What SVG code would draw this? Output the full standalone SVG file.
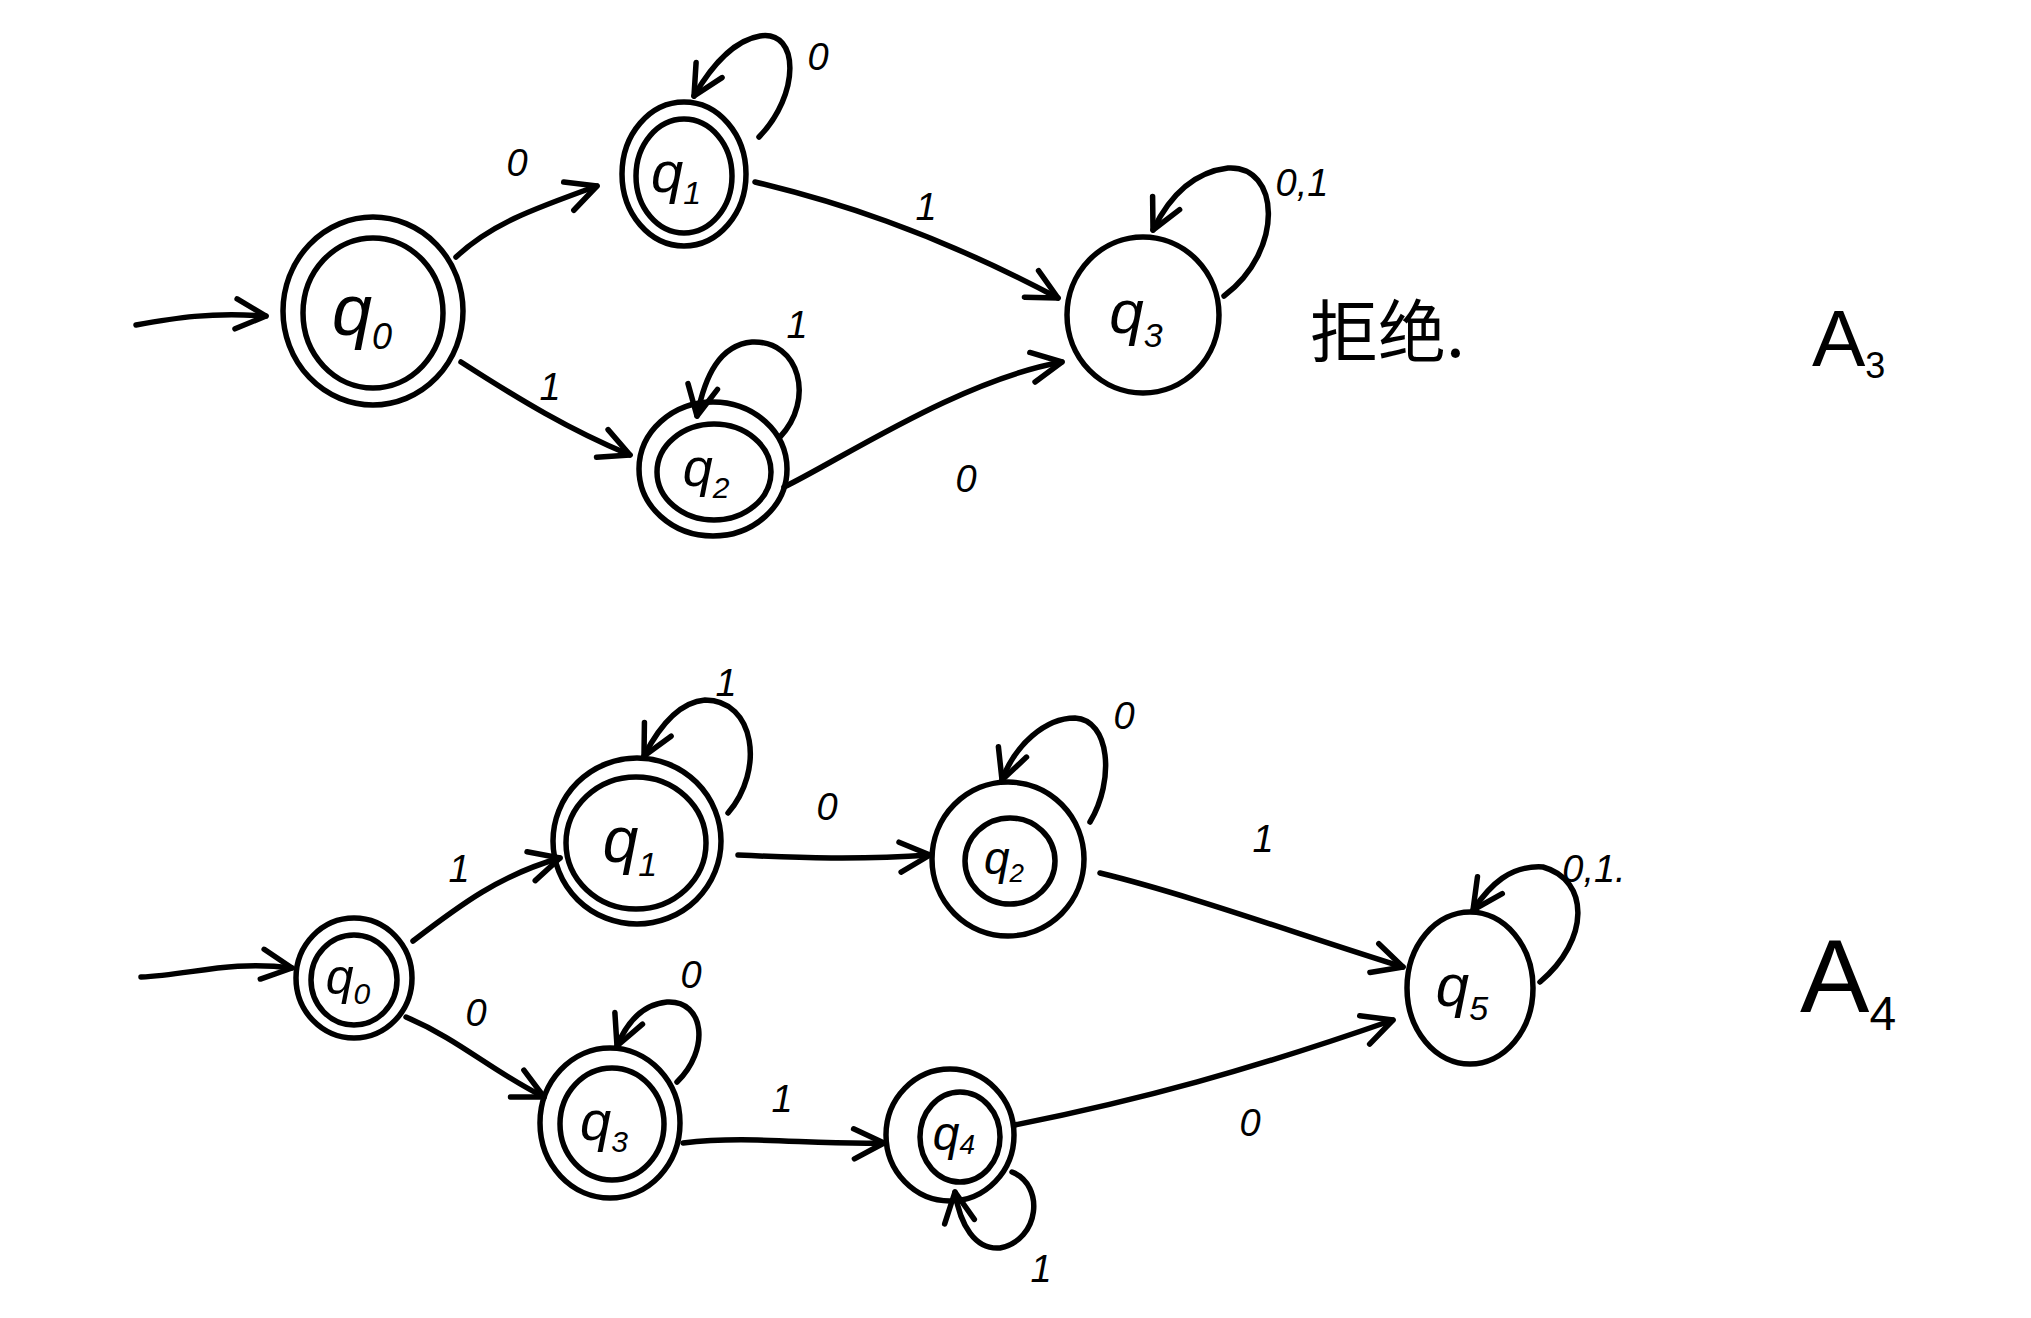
<svg xmlns="http://www.w3.org/2000/svg" width="2031" height="1318" viewBox="0 0 2031 1318">
<style>
.n{fill:none;stroke:#000;stroke-width:5.5;stroke-linecap:round}
.e{fill:none;stroke:#000;stroke-width:5.5;stroke-linecap:round;stroke-linejoin:round}
.t{font-family:"Liberation Sans",sans-serif;fill:#000}
.q{font-family:"Liberation Sans",sans-serif;font-style:italic;fill:#000;text-anchor:middle}
.l{font-family:"Liberation Sans",sans-serif;font-style:italic;fill:#000;font-size:38px;text-anchor:middle}
</style>
<defs>
<marker id="ah" markerUnits="userSpaceOnUse" markerWidth="40" markerHeight="40" viewBox="-34 -20 40 40" refX="0" refY="0" orient="auto">
<path d="M-30,-15 L0,0 L-30,15" fill="none" stroke="#000" stroke-width="5.5" stroke-linecap="round" stroke-linejoin="round"/>
</marker>
</defs>
<rect width="2031" height="1318" fill="#fff"/>

<!-- A3 -->
<g id="a3-q0"><ellipse class="n" cx="373" cy="311" rx="90" ry="94"/><ellipse class="n" cx="373" cy="313" rx="70" ry="75"/><text class="q" x="362" y="335" font-size="72">q<tspan font-size="36" dy="14">0</tspan></text></g>
<g id="a3-q1"><ellipse class="n" cx="684" cy="174" rx="62" ry="72"/><ellipse class="n" cx="684" cy="176" rx="48" ry="57"/><text class="q" x="676" y="192" font-size="58">q<tspan font-size="32" dy="12">1</tspan></text></g>
<g id="a3-q2"><ellipse class="n" cx="713" cy="469" rx="74" ry="67"/><ellipse class="n" cx="714" cy="472" rx="57" ry="48"/><text class="q" x="706" y="486" font-size="54">q<tspan font-size="30" dy="12">2</tspan></text></g>
<g id="a3-q3"><ellipse class="n" cx="1143" cy="315" rx="76" ry="78"/><text class="q" x="1136" y="333" font-size="62">q<tspan font-size="34" dy="14">3</tspan></text></g>

<g id="a3-edges">
<path class="e" marker-end="url(#ah)" d="M136,325 C175,318 210,312 266,316"/>
<path class="e" marker-end="url(#ah)" d="M456,257 C490,225 530,210 597,186"/>
<path class="e" marker-end="url(#ah)" d="M755,182 C830,200 930,230 1058,298"/>
<path class="e" marker-end="url(#ah)" d="M461,362 C520,400 570,430 630,455"/>
<path class="e" marker-end="url(#ah)" d="M784,487 C840,460 960,380 1062,362"/>
<path class="e" marker-end="url(#ah)" d="M759,137 C800,95 800,30 760,36 C735,40 712,65 694,96"/>
<path class="e" marker-end="url(#ah)" d="M1224,296 C1285,250 1280,165 1228,168 C1195,172 1170,195 1153,230"/>
<path class="e" marker-end="url(#ah)" d="M780,437 C815,400 800,340 752,342 C720,345 705,375 697,416"/>
</g>
<g id="a3-labels">
<text class="l" x="517" y="176">0</text>
<text class="l" x="818" y="70">0</text>
<text class="l" x="926" y="220">1</text>
<text class="l" x="1302" y="196" font-size="34">0,1</text>
<text class="l" x="550" y="400">1</text>
<text class="l" x="797" y="338" font-size="32">1</text>
<text class="l" x="966" y="492">0</text>
</g>
<text x="1310" y="357" font-size="68" style="font-family:'Noto Sans CJK SC',sans-serif;fill:#000">拒绝.</text>
<text class="t" x="1812" y="366" font-size="80">A<tspan font-size="36" dy="12">3</tspan></text>

<!-- A4 -->
<g id="a4-q0"><ellipse class="n" cx="354" cy="978" rx="58" ry="60"/><ellipse class="n" cx="354" cy="980" rx="43" ry="45"/><text class="q" x="348" y="994" font-size="50">q<tspan font-size="30" dy="10">0</tspan></text></g>
<g id="a4-q1"><ellipse class="n" cx="637" cy="841" rx="84" ry="83"/><ellipse class="n" cx="636" cy="843" rx="70" ry="66"/><text class="q" x="630" y="862" font-size="64">q<tspan font-size="34" dy="14">1</tspan></text></g>
<g id="a4-q2"><ellipse class="n" cx="1008" cy="859" rx="76" ry="77"/><ellipse class="n" cx="1010" cy="861" rx="45" ry="43"/><text class="q" x="1004" y="874" font-size="46">q<tspan font-size="26" dy="8">2</tspan></text></g>
<g id="a4-q3"><ellipse class="n" cx="610" cy="1123" rx="70" ry="75"/><ellipse class="n" cx="612" cy="1124" rx="52" ry="56"/><text class="q" x="604" y="1140" font-size="56">q<tspan font-size="30" dy="12">3</tspan></text></g>
<g id="a4-q4"><ellipse class="n" cx="950" cy="1135" rx="64" ry="66"/><ellipse class="n" cx="960" cy="1137" rx="40" ry="45"/><text class="q" x="954" y="1150" font-size="48">q<tspan font-size="28" dy="4">4</tspan></text></g>
<g id="a4-q5"><ellipse class="n" cx="1470" cy="988" rx="63" ry="76"/><text class="q" x="1462" y="1006" font-size="60">q<tspan font-size="34" dy="14">5</tspan></text></g>

<g id="a4-edges">
<path class="e" marker-end="url(#ah)" d="M141,977 C190,975 230,960 292,968"/>
<path class="e" marker-end="url(#ah)" d="M413,941 C460,905 500,875 560,858"/>
<path class="e" marker-end="url(#ah)" d="M738,855 C800,858 860,860 930,855"/>
<path class="e" marker-end="url(#ah)" d="M1100,873 C1190,895 1300,935 1403,967"/>
<path class="e" marker-end="url(#ah)" d="M406,1017 C460,1040 490,1070 544,1097"/>
<path class="e" marker-end="url(#ah)" d="M683,1143 C750,1135 810,1145 884,1143"/>
<path class="e" marker-end="url(#ah)" d="M1015,1125 C1140,1100 1250,1070 1393,1020"/>
<path class="e" marker-end="url(#ah)" d="M728,813 C765,770 755,700 705,700 C680,702 660,725 644,756"/>
<path class="e" marker-end="url(#ah)" d="M1090,822 C1115,780 1110,720 1075,718 C1045,718 1015,745 1002,780"/>
<path class="e" marker-end="url(#ah)" d="M677,1082 C710,1050 705,1000 667,1002 C645,1004 628,1020 617,1046"/>
<path class="e" marker-end="url(#ah)" d="M1012,1172 C1045,1185 1040,1240 1000,1248 C975,1250 960,1225 955,1192"/>
<path class="e" marker-end="url(#ah)" d="M1540,982 C1590,940 1590,880 1543,867 C1510,865 1490,885 1473,910"/>
</g>
<g id="a4-labels">
<text class="l" x="459" y="882">1</text>
<text class="l" x="827" y="820">0</text>
<text class="l" x="726" y="696" font-size="32">1</text>
<text class="l" x="1124" y="729" font-size="28">0</text>
<text class="l" x="476" y="1026">0</text>
<text class="l" x="691" y="988">0</text>
<text class="l" x="782" y="1112">1</text>
<text class="l" x="1263" y="852">1</text>
<text class="l" x="1250" y="1136">0</text>
<text class="l" x="1041" y="1282" font-size="32">1</text>
<text class="l" x="1594" y="882" font-size="32">0,1.</text>
</g>
<text class="t" x="1800" y="1012" font-size="104">A<tspan font-size="48" dy="18">4</tspan></text>
</svg>
